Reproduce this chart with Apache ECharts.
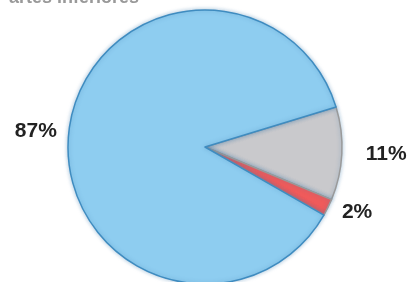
<!DOCTYPE html>
<html>
<head>
<meta charset="utf-8">
<script src="https://cdn.jsdelivr.net/npm/echarts@6/dist/echarts.min.js"></script>
<style>
  html, body { margin: 0; padding: 0; background: #fff; }
  #chart { width: 410px; height: 282px; }
</style>
</head>
<body>
<div id="chart"></div>
<script>
// data
const names = ['gris', 'rojo', 'azul']
const values = [11, 2, 87]
const colors = ['#c9c9cc', '#ef5b5b', '#8ecdf0']
const lineLen = [19, 10, 7]   // label distance per slice

const chart = echarts.init(document.getElementById('chart'))

chart.setOption({
  animation: false,
  title: {
    text: 'artes inferiores',
    left: 4,
    top: -16,
    textStyle: { color: '#999', fontSize: 18, fontWeight: 'bold', fontFamily: 'Liberation Sans' }
  },
  series: [{
    type: 'pie',
    center: [205, 147],
    radius: 137,
    startAngle: 17,
    clockwise: true,
    avoidLabelOverlap: false,
    itemStyle: {
      borderColor: '#3f8cc0',
      borderWidth: 1.5,
      shadowBlur: 4,
      shadowColor: 'rgba(60,120,170,0.4)'
    },
    label: {
      show: true,
      position: 'outside',
      formatter: '{c}%',
      color: '#222',
      fontSize: 21,
      fontWeight: 'bold',
      fontFamily: 'Liberation Sans'
    },
    labelLine: { show: false, length2: 0 },
    data: names.map((n, i) => ({
      name: n,
      value: values[i],
      itemStyle: { color: colors[i], borderColor: i === 2 ? '#3f8cc0' : '#9a9a9a' },
      labelLine: { show: false, length: lineLen[i], length2: 0 }
    }))
  }]
})
</script>
</body>
</html>
